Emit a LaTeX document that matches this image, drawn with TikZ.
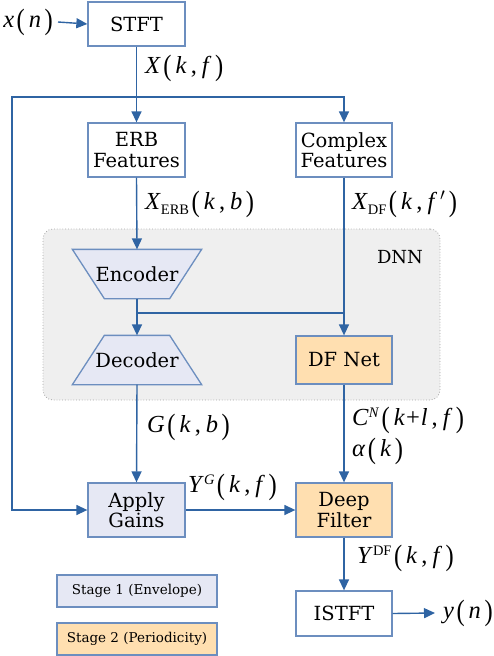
\documentclass[tikz,border=0pt]{standalone}
\usepackage{fontspec}
\setmainfont{DejaVu Serif}
\newfontfamily\mathlike{Liberation Serif}
\usetikzlibrary{arrows.meta}
\definecolor{lineblue}{HTML}{2F64A3}
\definecolor{boxblue}{HTML}{6C8EBF}
\definecolor{lav}{HTML}{E6E8F4}
\definecolor{peach}{HTML}{FFDFB0}
\definecolor{dnnbg}{HTML}{EFEFEF}
\definecolor{dnnborder}{HTML}{A8A8A8}
\newcommand\mi[1]{\textit{#1}}
\newcommand\lp{\kern2.5pt\raisebox{-1.5pt}{\scalebox{1}[1.2]{(}}\kern4pt}
\newcommand\rp{\kern3.5pt\raisebox{-1.5pt}{\scalebox{1}[1.2]{)}}}
\newcommand\cm{\kern4pt,\kern5pt}
\newcommand\subt[1]{\raisebox{-5pt}{\fontsize{14.5}{14.5}\selectfont #1}}
\newcommand\supt[1]{\raisebox{8.5pt}{\fontsize{14.5}{14.5}\selectfont #1}}
\begin{document}
\begin{tikzpicture}[x=1pt,y=-1pt,
  blk/.style={draw=boxblue,line width=1.3pt,inner sep=0pt,align=center,
    font=\fontsize{19.5}{20.5}\selectfont},
  trap/.style={draw=boxblue,line width=1.3pt,fill=lav},
  conn/.style={draw=lineblue,line width=1.4pt,-{Triangle[length=11pt,width=10pt]}},
  plain/.style={draw=lineblue,line width=1.4pt},
  lab/.style={anchor=west,inner sep=0pt,font=\mathlike\fontsize{24.5}{26}\selectfont},
  leg/.style={draw=boxblue,line width=1.3pt,minimum width=160pt,minimum height=32pt,inner sep=0pt,
    font=\fontsize{13.5}{15}\selectfont}
]
\useasboundingbox (0,0) rectangle (494,656);
% DNN region
\node[draw=dnnborder,fill=dnnbg,dotted,line width=0.8pt,rounded corners=10pt,
  minimum width=397pt,minimum height=171pt,inner sep=0pt] (dnn) at (241.5,314.5) {};
\node[inner sep=0pt,font=\fontsize{18}{20}\selectfont] (dnnlab) at (400,257) {DNN};

% blocks
\node[blk,minimum width=97pt,minimum height=44pt] (stft) at (136.5,24) {STFT};
\node[blk,minimum width=97pt,minimum height=54pt] (erb) at (136.5,150) {ERB\\Features};
\node[blk,minimum width=96pt,minimum height=54pt] (cf) at (344,150) {Complex\\Features};
\node[blk,draw=none,minimum width=128pt,minimum height=48pt] (enc) at (137,274) {};
\draw[trap] (enc.north west) -- (enc.north east) -- ([xshift=-32pt]enc.south east)
  -- ([xshift=32pt]enc.south west) -- cycle;
\node[blk,draw=none] (enct) at (enc) {Encoder};
\node[blk,draw=none,minimum width=128pt,minimum height=48pt] (dec) at (137,360) {};
\draw[trap] (dec.south west) -- (dec.south east) -- ([xshift=-32pt]dec.north east)
  -- ([xshift=32pt]dec.north west) -- cycle;
\node[blk,draw=none] (dect) at (dec) {Decoder};
\node[blk,fill=peach,minimum width=96pt,minimum height=48pt] (dfn) at (344,360) {DF Net};
\node[blk,fill=lav,minimum width=97pt,minimum height=54pt] (ag) at (136.5,510) {Apply\\Gains};
\node[blk,fill=peach,minimum width=96pt,minimum height=54pt] (df) at (344,510) {Deep\\Filter};
\node[blk,minimum width=96pt,minimum height=45pt] (istft) at (344,613.5) {ISTFT};

% legend
\node[leg,fill=lav] (leg1) at (137,591) {Stage 1 (Envelope)};
\node[leg,fill=peach] (leg2) at (137,639) {Stage 2 (Periodicity)};

% input/output
\node[lab,anchor=east,inner sep=0pt] (xn) at (53,22) {\mi{x}\lp\mi{n}\rp};
\node[lab] (yn) at (443,613) {\mi{y}\lp\mi{n}\rp};

% coordinates
\coordinate (br) at (136.5,97);
\coordinate (lt) at (12,97);
\coordinate (j) at (137,313);

% connectors
\draw[conn] ([xshift=5pt]xn.east) -- (stft.west);
\draw[conn] (stft.south) -- (erb.north);
\draw[conn] (br) -| (cf.north);
\draw[conn] (br) -- (lt) |- (ag.west);
\draw[conn] (erb.south) -- (enc.north);
\draw[conn] (enc.south) -- (dec.north);
\draw[plain] (j) -- (j -| cf.south);
\draw[conn] (cf.south) -- (dfn.north);
\draw[conn] (dec.south) -- (ag.north);
\draw[conn] (dfn.south) -- (df.north);
\draw[conn] (ag.east) -- (df.west);
\draw[conn] (df.south) -- (istft.north);
\draw[conn] (istft.east) -- ([xshift=-8pt]yn.west);

% labels
\node[lab] (l1) at (145,68) {\mi{X}\lp\mi{k}\cm\mi{f}\rp};
\node[lab] (l2) at (145,204) {\mi{X}\subt{ERB}\lp\mi{k}\cm\mi{b}\rp};
\node[lab] (l3) at (352,204) {\mi{X}\subt{DF}\lp\mi{k}\cm\mi{f}\kern3pt$'$\rp};
\node[lab] (l4) at (147,427) {\mi{G}\lp\mi{k}\cm\mi{b}\rp};
\node[lab] (l5) at (352,420) {\mi{C}\supt{\mi{N}}\lp\mi{k}\kern1pt+\kern1pt\mi{l}\cm\mi{f}\rp};
\node[lab] (l6) at (352,451) {\mi{α}\lp\mi{k}\rp};
\node[lab] (l7) at (188,487) {\mi{Y}\supt{\mi{G}}\lp\mi{k}\cm\mi{f}\rp};
\node[lab] (l8) at (357,558) {\mi{Y}\supt{DF}\lp\mi{k}\cm\mi{f}\rp};
\end{tikzpicture}
\end{document}
